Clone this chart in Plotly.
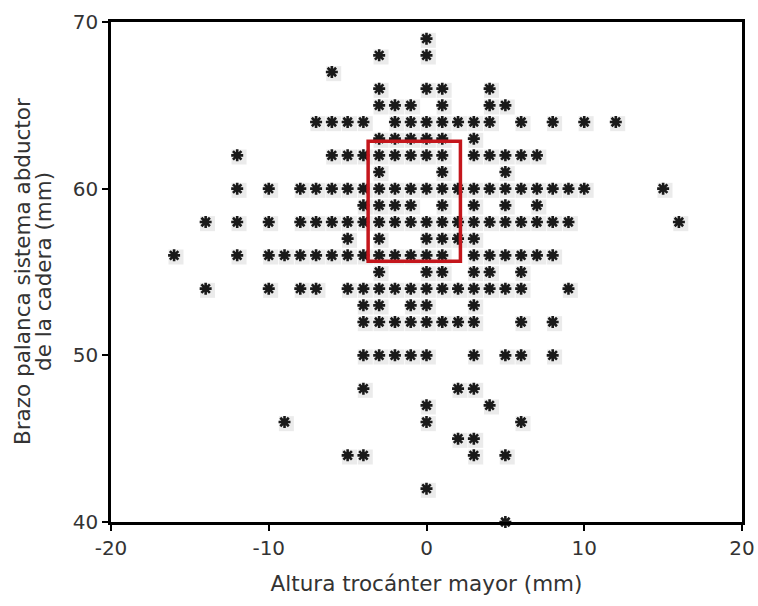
import plotly.graph_objects as go

# Rows of the scatter: y value -> x values (mm)
row_y = [69, 68, 67, 66, 65, 64, 63, 62, 61, 60, 59, 58, 57, 56, 55, 54, 53, 52, 50, 48, 47, 46, 45, 44, 42, 40]
row_x = [
    [0],
    [-3, 0],
    [-6],
    [-3, 0, 1, 4],
    [-3, -2, -1, 1, 4, 5],
    [-7, -6, -5, -4, -2, -1, 0, 1, 2, 3, 4, 6, 8, 10, 12],
    [-3, -2, -1, 0, 1, 3],
    [-12, -6, -5, -4, -3, -2, -1, 0, 1, 3, 4, 5, 6, 7],
    [-3, 1, 5],
    [-12, -10, -8, -7, -6, -5, -4, -3, -2, -1, 0, 1, 2, 3, 4, 5, 6, 7, 8, 9, 10, 15],
    [-4, -3, -2, -1, 1, 3, 5, 7],
    [-14, -12, -10, -8, -7, -6, -5, -4, -3, -2, -1, 0, 1, 2, 3, 4, 5, 6, 7, 8, 9, 16],
    [-5, -3, 0, 1, 2, 3],
    [-16, -12, -10, -9, -8, -7, -6, -5, -4, -3, -2, -1, 0, 1, 3, 4, 5, 6, 7, 8],
    [-3, 0, 1, 3, 4, 6],
    [-14, -10, -8, -7, -5, -4, -3, -2, -1, 0, 1, 2, 3, 4, 5, 6, 9],
    [-4, -3, -1, 0, 3],
    [-4, -3, -2, -1, 0, 1, 2, 3, 6, 8],
    [-4, -3, -2, -1, 0, 3, 5, 6, 8],
    [-4, 2, 3],
    [0, 4],
    [-9, 0, 6],
    [2, 3],
    [-5, -4, 3, 5],
    [0],
    [5],
]

x_ticks = [-20, -10, 0, 10, 20]
x_tick_text = ["-20", "-10", "0", "10", "20"]
y_ticks = [40, 50, 60, 70]
y_tick_text = ["40", "50", "60", "70"]
box_x = [-3.7, 2.15]
box_y = [55.65, 62.85]
x_title = "Altura trocánter mayor (mm)"
y_title_lines = ["Brazo palanca sistema abductor", "de la cadera (mm)"]

xs, ys = [], []
for yv, xl in zip(row_y, row_x):
    for xv in xl:
        xs.append(xv)
        ys.append(yv)

fig = go.Figure()
# soft grey halo behind each marker
fig.add_trace(go.Scatter(
    x=[v + 0.12 for v in xs], y=[v - 0.1 for v in ys], mode="markers",
    marker=dict(symbol="square", size=15, color="rgba(210,210,210,0.45)", line=dict(width=0)),
    hoverinfo="skip", showlegend=False, cliponaxis=False))
fig.add_trace(go.Scatter(
    x=xs, y=ys, mode="markers",
    marker=dict(symbol="asterisk-open", size=10, color="#1a1a1a",
                line=dict(width=2.6, color="#1a1a1a")),
    showlegend=False, cliponaxis=False))

fig.add_shape(type="rect", x0=box_x[0], x1=box_x[1], y0=box_y[0], y1=box_y[1],
              line=dict(color="#c4161c", width=3.5), fillcolor="rgba(0,0,0,0)")

font_family = "DejaVu Sans, Verdana, sans-serif"
txt = "#333333"
L, R, T, B = 111, 16, 22, 84
W, H = 758, 606
pw = W - L - R

# y-axis title as two rotated lines
for line, px in zip(y_title_lines, [22, 43]):
    fig.add_annotation(
        text=line, textangle=-90, showarrow=False,
        xref="paper", yref="paper", x=(px - L) / pw, y=0.5,
        xanchor="center", yanchor="middle",
        font=dict(size=21.5, color=txt, family=font_family))

fig.update_layout(
    width=W, height=H,
    margin=dict(l=L, r=R, t=T, b=B, autoexpand=False),
    plot_bgcolor="white", paper_bgcolor="white",
    font=dict(family=font_family, size=20, color=txt),
    xaxis=dict(range=[-20, 20], tickvals=x_ticks, ticktext=x_tick_text, ticks="outside",
               ticklen=6, tickwidth=1.5, automargin=False,
               tickcolor="black", showgrid=False, zeroline=False, showline=True,
               linecolor="black", linewidth=2.5, mirror=True,
               tickfont=dict(size=20, color=txt),
               title=dict(text=x_title, font=dict(size=21.5, color=txt), standoff=18)),
    yaxis=dict(range=[40, 70], tickvals=y_ticks, ticktext=y_tick_text, ticks="outside",
               ticklen=6, tickwidth=1.5, automargin=False,
               tickcolor="black", showgrid=False, zeroline=False, showline=True,
               linecolor="black", linewidth=2.5, mirror=True,
               tickfont=dict(size=20, color=txt)),
)

fig.write_html("out.html", config={"displayModeBar": False},
               post_script="document.body.style.margin='0';document.body.style.overflow='hidden';")
